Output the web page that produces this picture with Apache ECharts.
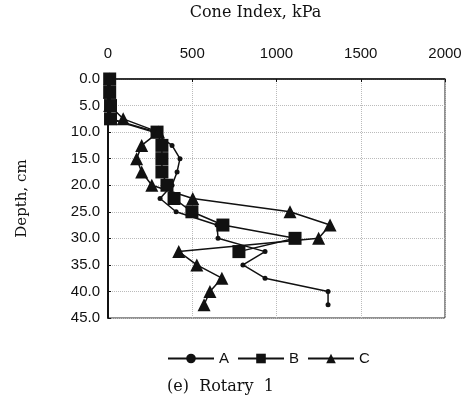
<!DOCTYPE html>
<html>
<head>
<meta charset="utf-8">
<script src="https://cdn.jsdelivr.net/npm/echarts@6/dist/echarts.min.js"></script>
<style>
html,body{margin:0;padding:0;background:#fff;}
#chart{width:476px;height:409px;}
</style>
</head>
<body>
<div id="chart"></div>
<script>
// depth (cm) and cone index (kPa)
var depth = [0, 2.5, 5, 7.5, 10, 12.5, 15, 17.5, 20, 22.5, 25, 27.5, 30, 32.5, 35, 37.5, 40, 42.5];
var ciA = [10, 10, 10, 10, 270, 380, 427, 410, 380, 309, 404, 647, 653, 932, 801, 932, 1306, 1306];
var ciB = [10, 10, 15, 15, 291, 320, 320, 320, 350, 392, 498, 682, 1110, 777];
var ciC = [10, 10, 10, 90, 300, 200, 170, 200, 260, 503, 1080, 1318, 1250, 420, 527, 676, 605, 570];
var xTicks = [0, 500, 1000, 1500, 2000];

function pairs(vals){
	var out = [];
	for(var i=0;i<vals.length;i++){
		out.push([vals[i], depth[i]]);
	}
	return out;
}

var chart = echarts.init(document.getElementById('chart'));
var option = {
	animation: false,
	title: {
		text: '(e)  Rotary  1',
		left: 162,
		top: 374,
		textStyle: {fontFamily: 'DejaVu Serif', fontSize: 16, fontWeight: 'normal', color: '#111'}
	},
	grid: {
		left: 108, top: 74, width: 337, height: 244,
		show: true, borderColor: '#222', borderWidth: 1
	},
	legend: {
		top: 346,
		left: 162,
		itemWidth: 46,
		itemHeight: 12,
		itemGap: 8,
		textStyle: {fontFamily: 'Liberation Sans', fontSize: 15, color: '#111'},
		data: ['A', 'B', 'C']
	},
	xAxis: {
		type: 'value',
		position: 'top',
		min: 0, max: 2000, interval: 500,
		name: 'Cone Index, kPa',
		nameLocation: 'middle',
		nameGap: 58,
		nameTextStyle: {fontFamily: 'DejaVu Serif', fontSize: 16, color: '#111', padding: [0, 42, 0, 0]},
		axisLine: {show: true, lineStyle: {color: '#111', width: 1.5}},
		axisTick: {show: true, inside: true, length: 3, lineStyle: {color: '#111'}},
		axisLabel: {
			fontFamily: 'Liberation Sans', fontSize: 15, color: '#111', margin: 18,
			formatter: function(v){ return xTicks.indexOf(v) >= 0 ? String(v) : ''; }
		},
		splitLine: {show: true, lineStyle: {color: '#bbb', type: 'dotted', width: 1}}
	},
	yAxis: {
		type: 'value',
		inverse: true,
		min: 0, max: 45, interval: 5,
		name: 'Depth, cm',
		nameLocation: 'middle',
		nameGap: 78,
		nameRotate: 90,
		nameTextStyle: {fontFamily: 'DejaVu Serif', fontSize: 15, color: '#111'},
		axisLine: {show: true, lineStyle: {color: '#111', width: 2}},
		axisTick: {show: true, inside: true, length: 3, lineStyle: {color: '#111'}},
		axisLabel: {
			fontFamily: 'Liberation Sans', fontSize: 15, color: '#111', margin: 8,
			formatter: function(v){ return v.toFixed(1); }
		},
		splitLine: {show: true, lineStyle: {color: '#bbb', type: 'dotted', width: 1}}
	},
	series: [
		{
			name: 'A', type: 'line', data: pairs(ciA),
			symbol: 'circle', symbolSize: 5,
			lineStyle: {color: '#111', width: 1.5},
			itemStyle: {color: '#111'}
		},
		{
			name: 'B', type: 'line', data: pairs(ciB),
			symbol: 'rect', symbolSize: 13,
			lineStyle: {color: '#111', width: 1.5},
			itemStyle: {color: '#111'}
		},
		{
			name: 'C', type: 'line', data: pairs(ciC),
			symbol: 'triangle', symbolSize: 13,
			lineStyle: {color: '#111', width: 1.5},
			itemStyle: {color: '#111'}
		}
	]
};
chart.setOption(option, true);
</script>
</body>
</html>
